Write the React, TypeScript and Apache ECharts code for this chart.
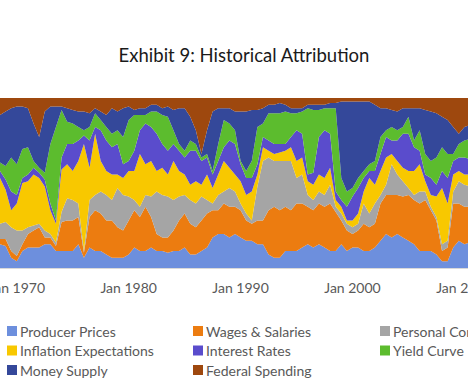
import React, { useEffect, useRef } from 'react';
import * as echarts from 'echarts';

const seriesNames = [
  'Producer Prices',
  'Wages & Salaries',
  'Personal Consumption',
  'Inflation Expectations',
  'Interest Rates',
  'Yield Curve',
  'Money Supply',
  'Federal Spending',
];

const colors = ['#6d8fdd', '#ec7c10', '#a5a5a5', '#f8c800', '#5a4ccc', '#5cbc2e', '#34489a', '#9e480e'];

// half-yearly shares (%) starting Jul 1968
const producerPrices = [14,13,6,4,10,12,12,12,14,14, 10,10,10,10,14,6,12,10,10,8, 6,6,6,8,12,10,10,12,10,10, 9,10,10,12,8,8,10,12,18,20, 20,18,20,18,16,16,14,14,8,6, 6,10,10,10,12,14,12,14,12,10, 10,14,10,12,12,10,10,12,16,20, 18,20,18,16,14,10,10,10,8,4, 4,12,16,14,15];
const wagesSalaries = [3,4,4,3,4,8,10,12,4,4, 3,17,18,18,16,3,18,24,22,20, 22,18,16,20,22,20,26,18,10,8, 9,12,18,20,18,16,18,20,16,14, 18,18,16,16,12,10,14,14,26,30, 28,26,24,28,26,22,22,24,24,28, 23,14,12,8,10,16,14,14,22,23, 25,23,24,27,26,28,30,24,20,6, 8,26,22,22,21];
const personalConsumption = [9,10,14,15,8,4,3,2,4,2, 2,6,13,12,8,1,10,9,13,15, 12,23,21,14,6,6,7,12,25,25, 24,18,14,11,14,14,14,8,4,9, 7,11,9,4,4,2,20,35,31,27, 29,27,29,15,17,7,6,7,7,11, 3,4,4,4,4,12,8,12,5,6, 18,12,9,4,3,7,5,2,2,4, 4,7,13,13,12];
const inflationExpectations = [27,19,10,16,28,27,30,27,26,14, 11,25,20,17,25,63,19,36,18,14, 15,8,10,15,17,31,18,21,12,16, 13,23,15,12,9,13,7,15,9,12, 18,12,10,13,11,17,7,8,4,4, 5,6,8,10,10,8,9,10,10,10, 4,4,2,4,6,7,21,11,14,16, 6,8,8,10,14,16,6,7,12,33, 22,10,6,6,7];
const interestRates = [4,6,11,5,3,4,4,3,4,4, 2,7,12,16,12,5,16,4,18,18, 16,18,8,6,12,14,24,20,22,14, 14,10,12,10,20,18,14,10,8,8, 8,16,18,10,10,8,6,6,6,6, 5,4,6,18,14,4,7,22,28,20, 5,4,8,14,15,8,4,8,10,12, 8,12,20,22,14,8,4,10,7,10, 15,8,8,10,9];
const yieldCurve = [5,8,20,18,17,16,4,3,4,35, 55,28,13,12,8,3,8,8,6,8, 8,8,16,24,21,9,5,9,13,17, 20,8,4,4,6,4,2,2,2,10, 16,10,8,2,4,10,22,8,16,18, 18,19,14,10,13,39,37,16,13,15, 49,13,9,5,6,4,4,6,10,4, 8,6,4,10,4,12,12,10,16,14, 14,4,8,10,12];
const moneySupply = [28,32,29,34,25,23,22,18,36,22, 12,2,8,8,9,11,8,3,5,7, 15,11,17,8,3,4,4,4,4,4, 6,12,21,25,14,8,2,14,35,21, 7,9,11,29,35,30,10,9,5,5, 6,4,3,3,2,2,3,3,2,3, 3,45,53,51,45,41,37,33,17,13, 10,11,11,5,19,13,26,29,26,18, 20,16,6,8,8];
const federalSpending = [10,8,6,5,5,6,15,23,8,5, 5,5,6,7,8,8,9,6,8,10, 6,8,6,5,7,6,6,4,4,6, 5,7,6,6,11,19,33,19,8,6, 6,6,8,8,8,7,7,6,4,4, 3,4,6,6,6,4,4,4,4,3, 3,2,2,2,2,2,2,4,6,6, 7,8,6,6,6,6,7,8,9,11, 13,17,21,17,16];

const seriesValues = [
  producerPrices,
  wagesSalaries,
  personalConsumption,
  inflationExpectations,
  interestRates,
  yieldCurve,
  moneySupply,
  federalSpending,
];

const startYear = 1968;
const dates: string[] = [];
for (let i = 0; i < producerPrices.length; i++) {
  const m = 6 + 6 * i;
  dates.push((m % 12 === 0 ? 'Jan ' : 'Jul ') + (startYear + Math.floor(m / 12)));
}
const tickLabels = ['Jan 1970', 'Jan 1980', 'Jan 1990', 'Jan 2000', 'Jan 2010'];

const FONT = 'Lato, "Liberation Sans", sans-serif';

export default function App() {
  const ref = useRef<HTMLDivElement>(null);
  useEffect(() => {
    if (!ref.current) return;
    const chart = echarts.init(ref.current, null, { renderer: 'svg' });
    const colX = [7, 193, 380];
    const rowY = [324, 343.5, 363];
    chart.setOption({
      animation: false,
      title: {
        text: 'Exhibit 9: Historical Attribution',
        left: 244,
        top: 45,
        textAlign: 'center',
        padding: 0,
        textStyle: { fontFamily: FONT, fontSize: 18.5, fontWeight: 'normal', color: '#1a1a1a' },
      },
      legend: seriesNames.map((name, k) => ({
        data: [name],
        left: colX[k % 3],
        top: rowY[Math.floor(k / 3)],
        padding: 0,
        icon: 'rect',
        itemWidth: 10,
        itemHeight: 10,
        selectedMode: false,
        textStyle: { fontFamily: FONT, fontSize: 14, color: '#595959', padding: [0, 0, 0, -2] },
      })),
      grid: { left: 0, top: 98, width: 470, bottom: 123, containLabel: false, outerBoundsMode: 'none' },
      xAxis: {
        type: 'category',
        data: dates,
        boundaryGap: false,
        axisTick: { show: false },
        axisLine: { lineStyle: { color: '#d9d9d9', width: 1 } },
        axisLabel: {
          interval: (idx: number, val: string) => tickLabels.includes(val),
          color: '#595959',
          fontFamily: FONT,
          fontSize: 14,
          margin: 12,
        },
        splitLine: { show: false },
      },
      yAxis: { type: 'value', min: 0, max: 100, show: false },
      series: seriesNames.map((name, k) => ({
        name,
        type: 'line',
        stack: 'total',
        data: seriesValues[k],
        symbol: 'none',
        showSymbol: false,
        lineStyle: { width: 0 },
        areaStyle: { color: colors[k], opacity: 1 },
        itemStyle: { color: colors[k] },
        color: colors[k],
      })),
    });
    return () => chart.dispose();
  }, []);
  return (
    <div
      ref={ref}
      style={{ position: 'absolute', left: 0, top: 0, width: 468, height: 391, background: '#fff' }}
    />
  );
}
